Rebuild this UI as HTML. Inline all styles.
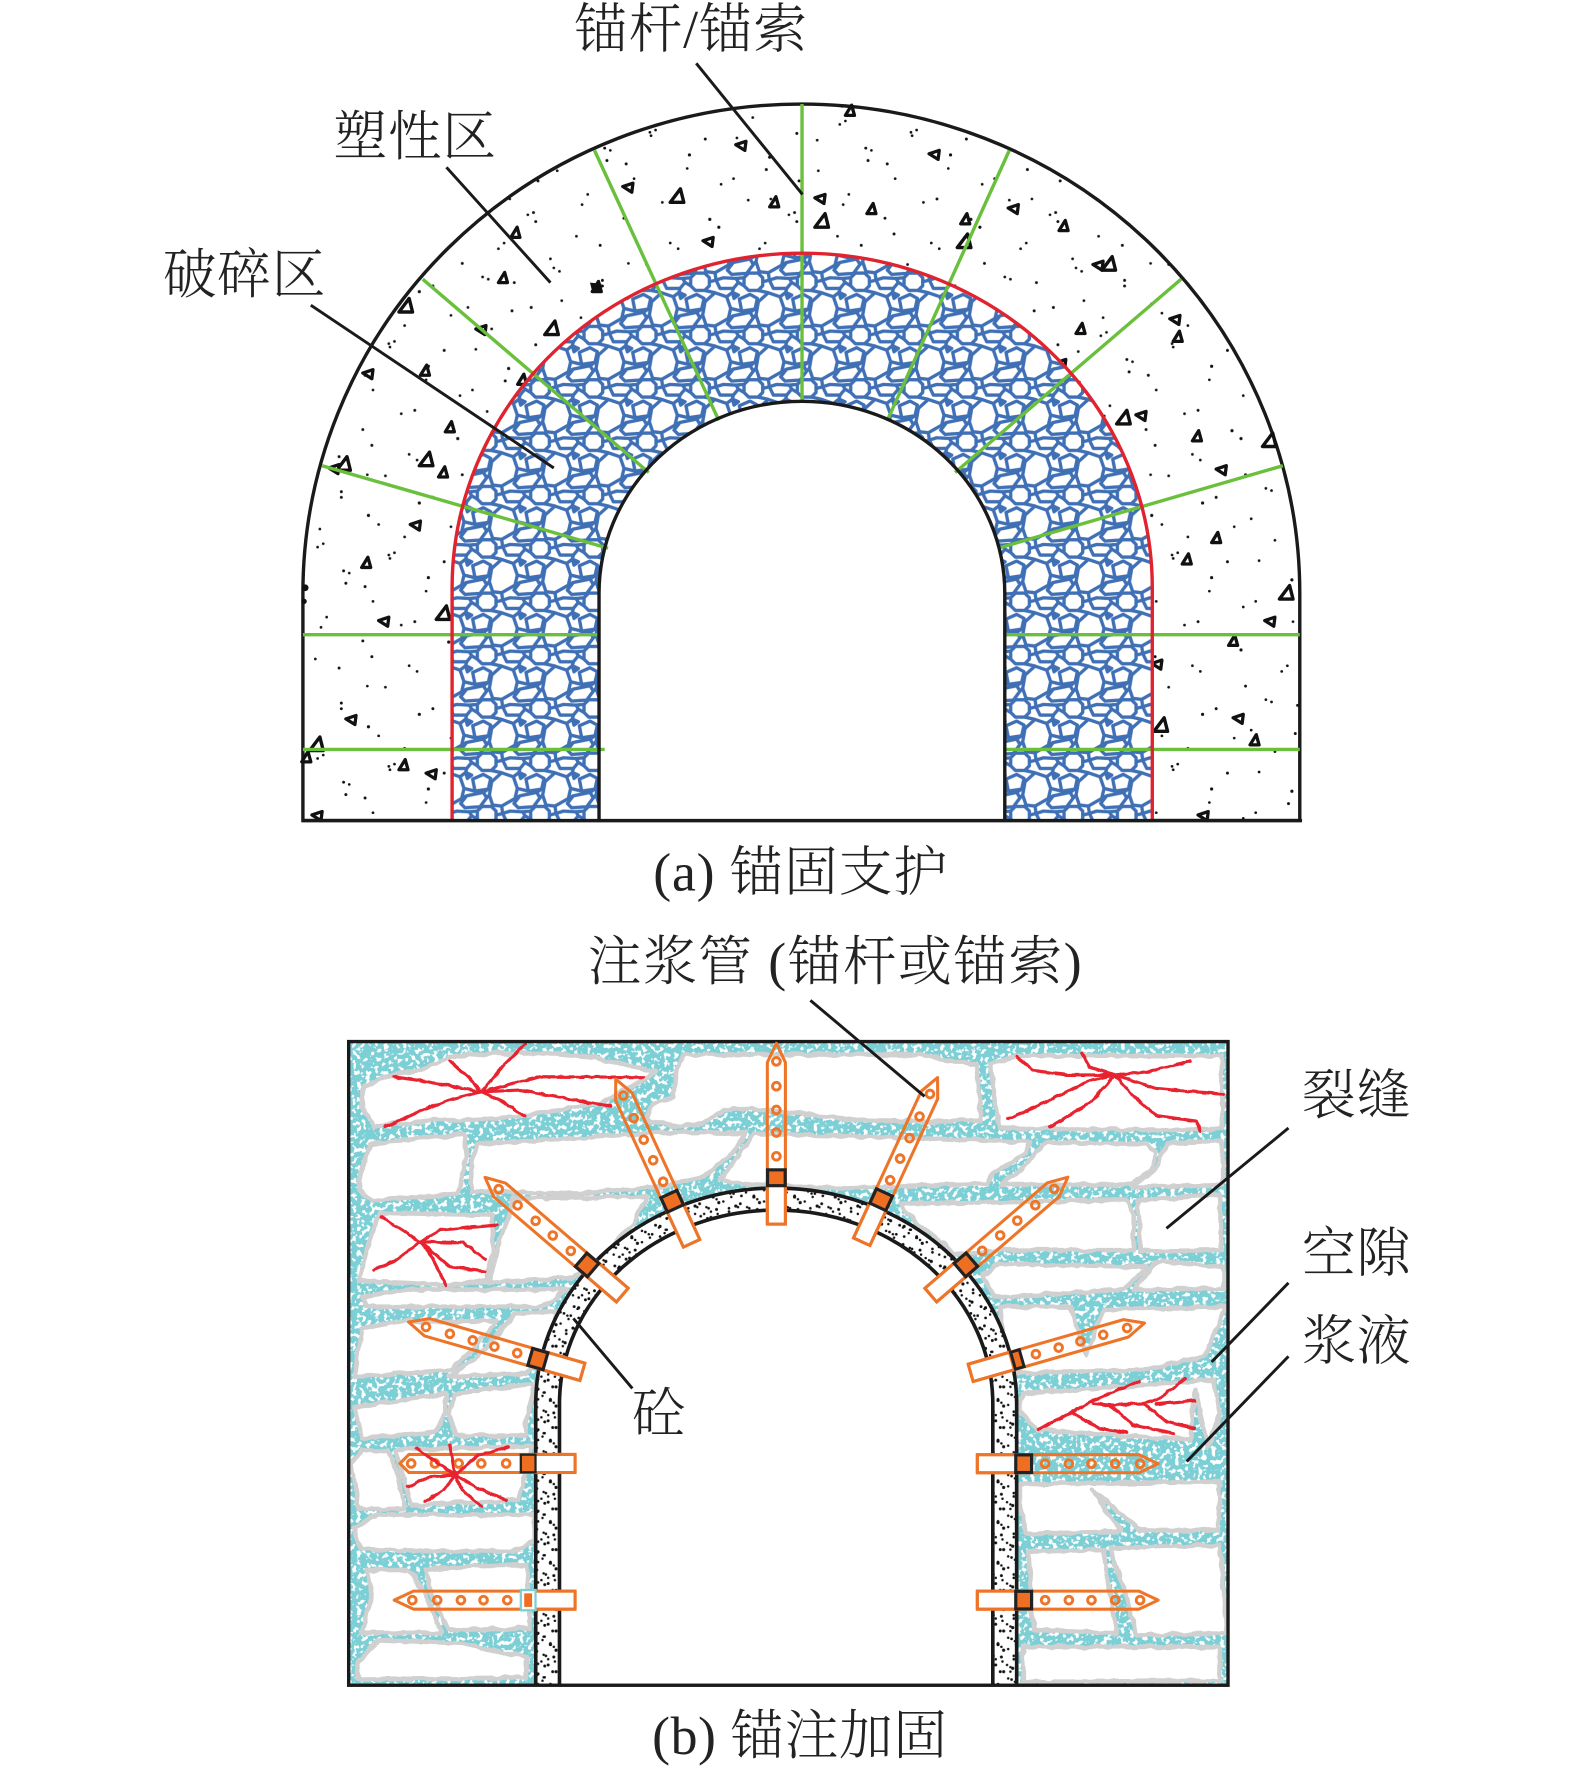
<!DOCTYPE html>
<html lang="zh"><head><meta charset="utf-8"><title>锚固支护与锚注加固</title>
<style>html,body{margin:0;padding:0;background:#fff}svg{display:block}text{font-family:"Liberation Serif","Noto Serif CJK SC",serif;font-size:47.6px;font-weight:300;fill:#222}</style></head>
<body>
<svg xmlns="http://www.w3.org/2000/svg" width="1575" height="1773" viewBox="0 0 1393.5 1568.6">
<defs>
<g id="cc" fill="#fff" stroke="#3f6fb5" stroke-width="10" stroke-linejoin="round">
<polygon points="26,14 54,14 68,28 68,52 54,66 26,66 12,52 12,28"/>
<polygon points="85,73 120,85 132,120 125,150 85,173 58,170 48,140 55,100"/>
<polygon points="88,35 110,28 148,30 155,42 140,60 100,60"/>
<polygon points="122,165 140,142 190,132 200,148 180,175 135,178"/>
<polygon points="137,72 155,80 142,90"/>
<polygon points="158,92 190,78 212,90 205,122 165,128"/>
<path d="M68,40 L88,35 M54,66 L85,73 M148,30 L172,28 M155,42 L172,52 M120,85 L137,72 M140,60 L137,72 M132,120 L165,128 M125,150 L140,142 M85,173 L88,195 M58,170 L54,174 M200,148 L208,140 M190,132 L205,122" fill="none"/>
</g>
<pattern id="cobble" patternUnits="userSpaceOnUse" x="418.8" y="426.2" width="47.19" height="47.19">
<rect width="47.19" height="47.19" fill="#fff"/>
<g transform="scale(.2949)"><use href="#cc"/><use href="#cc" x="-160"/><use href="#cc" y="-160"/><use href="#cc" x="-160" y="-160"/></g>
</pattern>
<pattern id="dots" patternUnits="userSpaceOnUse" width="231" height="187">
<g fill="#111">
<circle cx="12" cy="9" r="1.3"/><circle cx="48" cy="22" r="1.2"/><circle cx="90" cy="6" r="1.3"/><circle cx="131" cy="28" r="1.2"/><circle cx="174" cy="14" r="1.4"/><circle cx="210" cy="33" r="1.2"/>
<circle cx="28" cy="50" r="1.2"/><circle cx="33" cy="53" r="1.2"/><circle cx="71" cy="61" r="1.3"/><circle cx="110" cy="47" r="1.2"/><circle cx="152" cy="66" r="1.3"/><circle cx="196" cy="58" r="1.2"/><circle cx="201" cy="60" r="1.2"/>
<circle cx="8" cy="85" r="1.3"/><circle cx="52" cy="94" r="1.2"/><circle cx="95" cy="82" r="1.4"/><circle cx="127" cy="101" r="1.2"/><circle cx="168" cy="92" r="1.2"/><circle cx="222" cy="88" r="1.3"/>
<circle cx="30" cy="124" r="1.2"/><circle cx="73" cy="131" r="1.3"/><circle cx="78" cy="133" r="1.2"/><circle cx="114" cy="120" r="1.2"/><circle cx="148" cy="137" r="1.4"/><circle cx="190" cy="122" r="1.2"/>
<circle cx="14" cy="160" r="1.3"/><circle cx="58" cy="172" r="1.2"/><circle cx="99" cy="158" r="1.2"/><circle cx="136" cy="176" r="1.3"/><circle cx="176" cy="163" r="1.2"/><circle cx="216" cy="150" r="1.3"/><circle cx="220" cy="176" r="1.2"/>
</g></pattern>
<pattern id="dots2" href="#dots" patternTransform="translate(83,57) scale(-1,1)"></pattern>
<pattern id="conc" patternUnits="userSpaceOnUse" width="36" height="36">
<g fill="#111">
<circle cx="4" cy="4" r="1.3"/><circle cx="7" cy="6" r="1.1"/><circle cx="13" cy="8" r="1.1"/><circle cx="24" cy="3" r="1.4"/><circle cx="31" cy="10" r="1.2"/><circle cx="34" cy="12" r="1.1"/><circle cx="8" cy="14" r="1.2"/><circle cx="19" cy="15" r="1.4"/><circle cx="22" cy="17" r="1.1"/><circle cx="28" cy="19" r="1.1"/><circle cx="3" cy="23" r="1.4"/><circle cx="13" cy="24" r="1.1"/><circle cx="22" cy="26" r="1.3"/><circle cx="33" cy="28" r="1.2"/><circle cx="8" cy="32" r="1.2"/><circle cx="11" cy="30" r="1.1"/><circle cx="17" cy="33" r="1.3"/><circle cx="27" cy="33" r="1.1"/><circle cx="30" cy="35" r="1.1"/>
</g></pattern>
<pattern id="conc2" href="#conc" patternTransform="translate(11,17) rotate(90)"></pattern>
<polygon id="t" points="-4,4 4,4 1.5,-5" fill="#fff" stroke="#111" stroke-width="2.9" stroke-linejoin="round"/>
<polygon id="u" points="-5,-1 4,-4 3,4" fill="#fff" stroke="#111" stroke-width="2.9" stroke-linejoin="round"/>
<polygon id="v" points="-6,5 6,5 3,-7" fill="#fff" stroke="#111" stroke-width="3" stroke-linejoin="round"/>
<filter id="speck" x="0" y="0" width="1" height="1" color-interpolation-filters="sRGB">
<feTurbulence type="fractalNoise" baseFrequency=".25" numOctaves="2" seed="4"/>
<feColorMatrix type="matrix" values="0 0 0 0 .49  0 0 0 0 .81  0 0 0 0 .84  12 0 0 0 -4.5"/>
</filter>
<filter id="wob" x="-5%" y="-5%" width="110%" height="110%">
<feTurbulence type="fractalNoise" baseFrequency=".09" numOctaves="2" seed="7" result="n"/>
<feDisplacementMap in="SourceGraphic" in2="n" scale="4.5" xChannelSelector="R" yChannelSelector="G"/>
</filter>
<filter id="wob2" x="-5%" y="-5%" width="110%" height="110%">
<feTurbulence type="fractalNoise" baseFrequency=".16" numOctaves="1" seed="2" result="n"/>
<feDisplacementMap in="SourceGraphic" in2="n" scale="3" xChannelSelector="R" yChannelSelector="G"/>
</filter>
<g id="rod" fill="none" stroke="#ee7428" stroke-width="2.7" stroke-linejoin="round">
<path d="M0,-8 L143,-8 L160,0 L143,8 L0,8 Z"/>
<g stroke-width="2.6"><circle cx="60" cy="0" r="3.4"/><circle cx="81" cy="0" r="3.4"/><circle cx="101" cy="0" r="3.4"/><circle cx="122" cy="0" r="3.4"/><circle cx="144" cy="0" r="3.4"/></g>
</g>
<rect id="body" x="0" y="-8" width="38" height="16" fill="#fff" stroke="#ee7428" stroke-width="2.7"/>
<rect id="plate" x="34" y="-7.8" width="14" height="15.6" fill="#ee6f22" stroke="#222" stroke-width="2.8"/>
</defs>

<!-- Panel a -->
<path d="M268,726 V525 A441,433 0 0 1 1150,525 V726 Z" fill="#fff" stroke="#1a1a1a" stroke-width="3"/>
<path d="M268,726 V525 A441,433 0 0 1 1150,525 V726 Z" fill="url(#dots)"/>
<path d="M268,726 V525 A441,433 0 0 1 1150,525 V726 Z" fill="url(#dots2)"/>
<g>
<use href="#t" x="752" y="98"/><use href="#u" x="656" y="129"/><use href="#u" x="827" y="137"/><use href="#u" x="556" y="166"/><use href="#v" x="599" y="174"/><use href="#t" x="685" y="179"/><use href="#u" x="726" y="176"/><use href="#v" x="727" y="196"/><use href="#t" x="771" y="185"/><use href="#u" x="897" y="185"/><use href="#t" x="941" y="200"/><use href="#t" x="854" y="194"/><use href="#v" x="853" y="214"/><use href="#t" x="456" y="206"/><use href="#t" x="445" y="246"/><use href="#v" x="488" y="291"/><use href="#u" x="627" y="214"/><use href="#u" x="972" y="235"/><use href="#v" x="981" y="234"/><use href="#u" x="1040" y="283"/><use href="#t" x="1042" y="298"/><use href="#t" x="956" y="291"/><use href="#u" x="939" y="322"/><use href="#v" x="359" y="271"/><use href="#u" x="426" y="292"/><use href="#t" x="462" y="336"/><use href="#t" x="376" y="328"/><use href="#u" x="326" y="331"/><use href="#t" x="398" y="378"/><use href="#v" x="377" y="407"/><use href="#t" x="392" y="418"/><use href="#v" x="304" y="411"/><use href="#u" x="296" y="415"/><use href="#u" x="368" y="465"/><use href="#t" x="324" y="498"/><use href="#u" x="340" y="550"/><use href="#v" x="392" y="543"/><use href="#u" x="311" y="637"/><use href="#v" x="280" y="659"/><use href="#t" x="271" y="670"/><use href="#t" x="357" y="677"/><use href="#u" x="382" y="685"/><use href="#u" x="281" y="722"/><use href="#v" x="994" y="370"/><use href="#u" x="1010" y="368"/><use href="#t" x="1059" y="386"/><use href="#v" x="1123" y="390"/><use href="#u" x="1081" y="416"/><use href="#t" x="1076" y="476"/><use href="#v" x="1138" y="525"/><use href="#t" x="1050" y="495"/><use href="#u" x="1124" y="550"/><use href="#t" x="1091" y="567"/><use href="#u" x="1096" y="636"/><use href="#u" x="1024" y="588"/><use href="#v" x="1027" y="642"/><use href="#t" x="1110" y="655"/><use href="#u" x="1065" y="722"/>
<use href="#t" x="528" y="254"/><polygon points="522,250 532,251 533,259 524,258" fill="#111"/><circle cx="270" cy="520" r="3" fill="#111"/><circle cx="269" cy="532" r="2.4" fill="#111"/>
</g>
<path d="M400,726 V520 A309.75,296 0 0 1 1019.5,520 V726 Z" fill="url(#cobble)"/>
<path d="M530,726 V525 A179.5,170 0 0 1 889,525 V726 Z" fill="#fff"/>
<g stroke="#6abf3c" stroke-width="3" fill="none">
<path d="M709.6,92 V355 M526,133 L636,372 M893,133 L785,372 M374,247 L574,418 M1045,247 L845,418 M285,412 L538,485 M1135,412 L883,485 M268,561.5 H530 M889,561.5 H1150 M268,663 H535 M889,663 H1150"/>
</g>
<path d="M400,726 V520 A309.75,296 0 0 1 1019.5,520 V726" fill="none" stroke="#e0232e" stroke-width="3"/>
<path d="M530,726 V525 A179.5,170 0 0 1 889,525 V726" fill="none" stroke="#1a1a1a" stroke-width="3"/>
<path d="M267,726 H1152" stroke="#1a1a1a" stroke-width="3"/>
<g stroke="#1a1a1a" stroke-width="2.6" fill="none">
<path d="M616,56 L710,172 M395,148 L487,250 M275,270 L490,414"/>
</g>

<!-- Panel b -->
<rect x="308.5" y="921.5" width="778" height="569.5" fill="#fff"/>
<rect x="308.5" y="921.5" width="778" height="569.5" filter="url(#speck)"/>
<g filter="url(#wob)" fill="#fff" stroke="#d0d0d0" stroke-width="4" stroke-linejoin="round">
<polygon points="321,961 348,951 377,945 398,935 433,932 490,932 522,935 581,948 531,976 466,987 419,991 383,991 330,997 321,979"/>
<polygon points="599,946 605,933 814,933 864,942 868,991 820,992 761,991 696,984 666,981 640,982 622,994 601,997 572,991 578,976 596,970"/>
<polygon points="876,941 900,934 1081,934 1081,998 1040,1000 884,998"/>
<polygon points="318,1044 327,1012 410,1003 413,1023 405,1056 330,1062 317,1053"/>
<polygon points="422,1012 507,1007 584,1002 660,1002 649,1020 622,1041 584,1050 507,1056 417,1054 417,1030"/>
<polygon points="667,1003 780,1006 911,1010 908,1020 879,1038 873,1047 790,1050 746,1051 658,1048 637,1044 655,1020"/>
<polygon points="925,1011 1015,1012 1023,1019 1018,1035 1001,1048 885,1048 903,1035"/>
<polygon points="1032,1012 1081,1009 1082,1048 1001,1050 1023,1034"/>
<polygon points="336,1073 436,1075 436,1109 430,1133 398,1137 318,1133 327,1097"/>
<polygon points="448,1082 454,1060 572,1059 560,1082 531,1115 507,1130 433,1135 442,1097"/>
<polygon points="796,1065 997,1062 1003,1074 1003,1106 885,1106 845,1110 802,1073"/>
<polygon points="1007,1062 1079,1057 1081,1106 1009,1107"/>
<polygon points="870,1128 885,1118 1015,1121 994,1141 880,1148"/>
<polygon points="1023,1116 1083,1121 1083,1140 1003,1141"/>
<polygon points="321,1147 360,1141 501,1141 481,1156 324,1156"/>
<polygon points="320,1175 358,1169 441,1169 400,1212 314,1218"/>
<polygon points="456,1162 493,1161 479,1203 465,1215 397,1218 423,1200"/>
<polygon points="314,1245 394,1233 394,1251 385,1267 320,1273"/>
<polygon points="403,1233 473,1224 466,1254 465,1270 403,1270 397,1251"/>
<polygon points="310,1295 320,1283 344,1284 352,1304 358,1335 317,1335 314,1307"/>
<polygon points="350,1283 470,1279 459,1327 364,1332"/>
<polygon points="313,1351 335,1340 473,1340 473,1363 453,1373 320,1371"/>
<polygon points="324,1389 361,1389 376,1410 391,1445 320,1444 329,1413"/>
<polygon points="376,1389 423,1385 466,1385 469,1441 397,1442 382,1410"/>
<polygon points="316,1472 335,1451 409,1454 466,1466 466,1484 317,1486"/>
<polygon points="885,1156 947,1156 961,1200 976,1159 1085,1156 1065,1200 1012,1212 900,1215 888,1189"/>
<polygon points="905,1233 1074,1221 1079,1251 1069,1280 1057,1230 1053,1274 917,1265 902,1248"/>
<polygon points="902,1313 1079,1311 1078,1354 1009,1354 967,1318 991,1355 908,1357 902,1333"/>
<polygon points="910,1373 976,1371 988,1445 914,1442"/>
<polygon points="982,1370 1079,1367 1085,1445 1006,1447 994,1404"/>
<polygon points="905,1457 1079,1457 1079,1487 905,1488"/>
</g>
<g filter="url(#wob2)" fill="none" stroke="#e8202e" stroke-width="2.8" stroke-linejoin="round" stroke-linecap="round">
<path d="M426,966 L445,943 L464.5,924 M426,966 L414,952.6 L398,939 M426,966 L377.5,957 L348,952.6 M426,966 L401,972 L374.5,982 L340.6,997 M426,966 L478,952.6 L569,953 M426,966 L460,964.4 L501,972 L540,978.6 M426,966 L445.3,975 L464.5,988"/>
<path d="M371.6,1098.6 L337.7,1076.5 M371.6,1098.6 L389.3,1088.3 L439.4,1083.9 M371.6,1098.6 L410,1099.5 L429,1113.4 M371.6,1098.6 L377.5,1103 L398,1120.7 L429,1125 M371.6,1098.6 L380.4,1109 L394.6,1137 M371.6,1098.6 L348,1116.3 L330.3,1123.7"/>
<path d="M986.5,951 L944,951 L914,947 L899.5,935 M986.5,951 L964,944 L957,932 M986.5,951 L1017.5,948 L1053,939 M986.5,951 L1023,963 L1082,968 M986.5,951 L1003,970 L1023,987 L1059,992 L1062,1001 M986.5,951 L964,976 L929,997 M986.5,951 L964,956 L923,976 L892,990"/>
<path d="M918.7,1264.7 L949.7,1249 L967.4,1238.8 L1007,1222.5 M967.4,1241.7 L982,1243.2 L1011.6,1241.7 L1023.4,1238.8 L1048.5,1219.6 M1023.4,1242.3 L1057.3,1238.8 M1011.6,1241.7 L1032.2,1258 L1057.3,1263.8 M982,1243.2 L1002.8,1260.9 L1038.1,1268.3 M949.7,1250.6 L973.3,1263.8 L996.9,1267.7"/>
</g>
<path d="M474,1491 V1242 A212.75,191 0 0 1 899.5,1242 V1491 Z" fill="#fff"/>
<path d="M474,1491 V1242 A212.75,191 0 0 1 899.5,1242 V1491 Z" fill="url(#conc)"/>
<path d="M474,1491 V1242 A212.75,191 0 0 1 899.5,1242 V1491 Z" fill="url(#conc2)"/>
<path d="M495,1491 V1242 A191.7,171.4 0 0 1 878.4,1242 V1491 Z" fill="#fff"/>
<path d="M474,1491 V1242 A212.75,191 0 0 1 899.5,1242 V1491 M495,1491 V1242 A191.7,171.4 0 0 1 878.4,1242 V1491" fill="none" stroke="#1a1a1a" stroke-width="3.2"/>
<rect x="308.5" y="921.5" width="778" height="569.5" fill="none" stroke="#1a1a1a" stroke-width="3"/>

<g transform="translate(864.7,1415.7)"><use href="#body"/><use href="#rod"/><use href="#plate"/></g>
<g transform="translate(864.7,1295)"><use href="#body"/><use href="#rod"/><use href="#plate"/></g>
<g transform="translate(508.8,1415.7) rotate(180)"><use href="#body"/><use href="#rod"/><rect x="35" y="-9" width="13" height="18" fill="#fff" stroke="#7ccfd5" stroke-width="2"/><rect x="38" y="-6" width="7" height="12" fill="#ee6f22"/></g>
<g transform="translate(508.8,1294.8) rotate(180)"><rect x="0" y="-8" width="38" height="16" fill="#fff" stroke="#ee7428" stroke-width="2.7"/><g fill="none" stroke="#ee7428" stroke-width="2.7" stroke-linejoin="round"><path d="M0,-8 L147,-8 L155,0 L147,8 L0,8 Z"/><g stroke-width="2.6"><circle cx="61" cy="0" r="3.4"/><circle cx="83" cy="0" r="3.4"/><circle cx="103" cy="0" r="3.4"/><circle cx="124" cy="0" r="3.4"/><circle cx="145" cy="0" r="3.4"/></g></g><rect x="35" y="-7.8" width="13" height="15.6" fill="#ee6f22" stroke="#222" stroke-width="2"/></g>
<g transform="translate(515.3,1213.7) rotate(196)"><use href="#body"/><use href="#rod"/><use href="#plate"/></g>
<g transform="translate(550.6,1145.8) rotate(220.6)"><use href="#body"/><use href="#rod"/><use href="#plate"/></g>
<g transform="translate(611.9,1100) rotate(245.2)"><use href="#body"/><use href="#rod"/><use href="#plate"/></g>
<g transform="translate(686.9,1083) rotate(-90)"><use href="#body"/><use href="#rod"/><use href="#plate"/></g>
<g transform="translate(762.4,1098.6) rotate(-65.2)"><use href="#body"/><use href="#rod"/><use href="#plate"/></g>
<g transform="translate(823.5,1145.8) rotate(-40.7)"><use href="#body"/><use href="#rod"/><use href="#plate"/></g>
<g transform="translate(858.8,1214.6) rotate(-16)"><use href="#body"/><use href="#rod"/><rect x="39" y="-7.8" width="8" height="15.6" fill="#ee6f22" stroke="#222" stroke-width="2.6"/></g>

<g stroke="#1a1a1a" stroke-width="2.6" fill="none">
<path d="M1140,998 L1032,1086.8 M1140,1135 L1072,1205 M1140,1200 L1050,1293 M559.5,1228.4 L507.3,1166.5 M717,885 L818,970"/>
</g>

<g filter="url(#wob2)" fill="none" stroke="#e8202e" stroke-width="2.8" stroke-linejoin="round" stroke-linecap="round">
<path d="M402.6,1305 L368.7,1281.5 M402.6,1305 L398,1278.6 M402.6,1305 L423.3,1287.4 L449.8,1280 M402.6,1305 L423.3,1317 L448,1327 M402.6,1305 L408.5,1318.4 L426,1332.5 M402.6,1305 L393.8,1317 L376,1328.7 M402.6,1305 L379,1306.6 L361,1315.4"/>
</g>

<!-- Labels -->
<text x="508" y="42" textLength="206">锚杆/锚索</text>
<text x="295" y="137" textLength="144">塑性区</text>
<text x="144" y="259" textLength="144">破碎区</text>
<text x="578" y="788" textLength="260">(a) 锚固支护</text>
<text x="520" y="867" textLength="437">注浆管 (锚杆或锚索)</text>
<text x="1152" y="985" textLength="96">裂缝</text>
<text x="1152" y="1125" textLength="96">空隙</text>
<text x="1152" y="1203" textLength="96">浆液</text>
<text x="559" y="1267">砼</text>
<text x="577" y="1552" textLength="261">(b) 锚注加固</text>
</svg>
</body></html>
